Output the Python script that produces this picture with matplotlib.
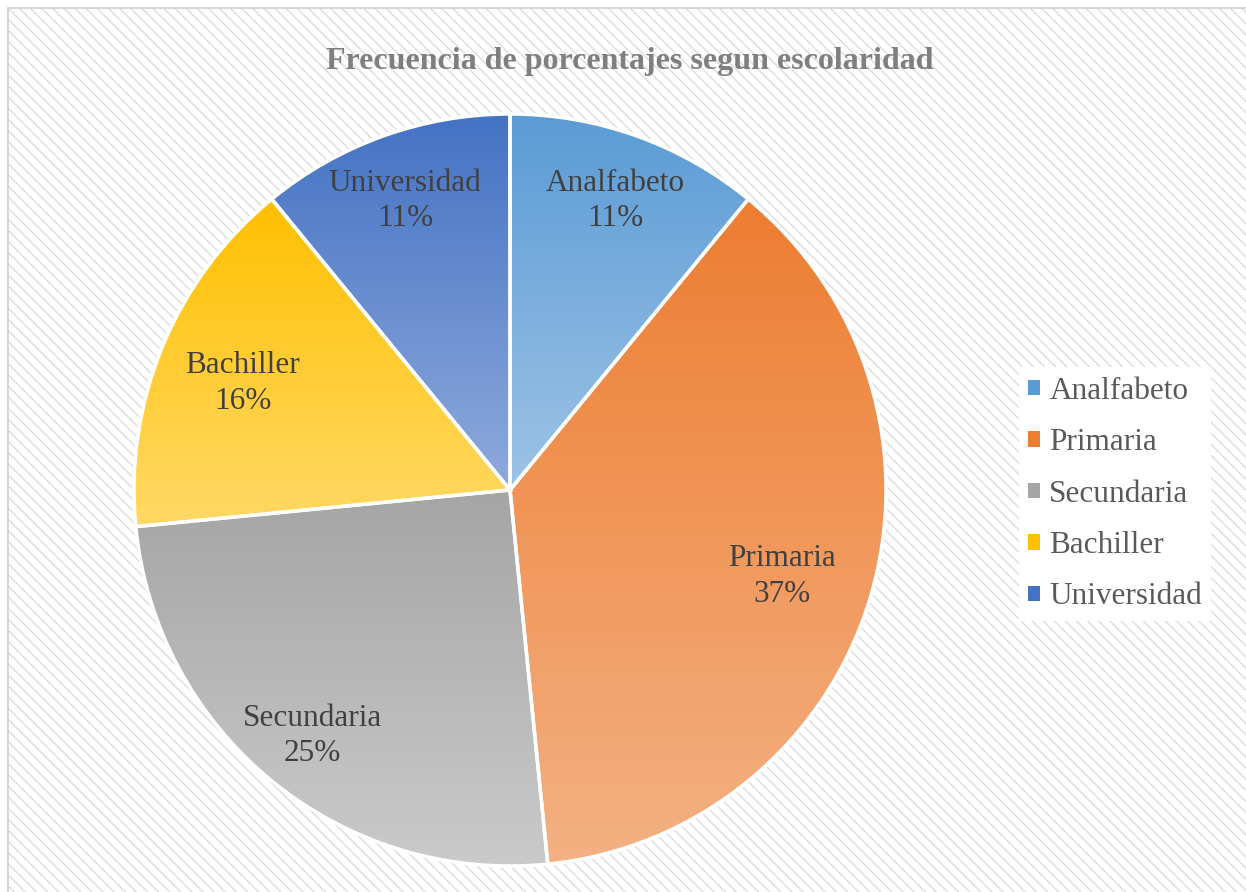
import numpy as np
import matplotlib
matplotlib.use("Agg")
import matplotlib.pyplot as plt
from matplotlib.colors import to_rgb
from matplotlib.patches import Patch, Rectangle

# data (percent, slice sizes estimated from the angles)
categories = ["Analfabeto", "Primaria", "Secundaria", "Bachiller", "Universidad"]
percentages = [10.9, 37.4, 25.0, 15.6, 10.9]

# gradient colours per slice (top, bottom)
top_colors = ["#5B9BD5", "#ED7D31", "#A5A5A5", "#FFC000", "#4472C4"]
bottom_colors = ["#9DC3E6", "#F4B183", "#CACACA", "#FFD966", "#8FAADC"]

# label distance from centre, per slice (layout only)
label_r = [0.83, 0.755, 0.83, 0.77, 0.83]

plt.rcParams["font.family"] = ["Liberation Serif", "DejaVu Serif"]

W, H = 1246, 892
fig = plt.figure(figsize=(W / 100, H / 100), dpi=100)
fig.patch.set_facecolor("white")

# hatched chart area background + border (behind the axes)
fig.patches.append(Rectangle((8 / W, 0), 1, 1 - 8 / H, transform=fig.transFigure,
                             facecolor="white", edgecolor="#dcdcdc", hatch="\\\\\\",
                             linewidth=0, zorder=-2))
fig.patches.append(Rectangle((8 / W, -0.01), 1, 1 - 8 / H + 0.01, transform=fig.transFigure,
                             facecolor="none", edgecolor="#d0d0d0", linewidth=1.2, zorder=-1))

cx, cy, r = 510, 490, 376
ax = fig.add_axes([(cx - r) / W, (H - cy - r) / H, 2 * r / W, 2 * r / H])
ax.set_facecolor("none")
ax.axis("off")

wedges, _ = ax.pie(percentages, startangle=90, counterclock=False, radius=1,
                   wedgeprops=dict(facecolor="none", edgecolor="white", linewidth=2.5))

for w, ct, cb in zip(wedges, top_colors, bottom_colors):
    w.set_zorder(3)
    bb = w.get_path().get_extents()
    t = np.linspace(0, 1, 256)[:, None]
    grad = (1 - t) * np.array(to_rgb(cb)) + t * np.array(to_rgb(ct))
    im = ax.imshow(grad[:, None, :], extent=[bb.x0, bb.x1, bb.y0, bb.y1],
                   origin="lower", aspect="auto", interpolation="bilinear", zorder=2)
    im.set_clip_path(w)

for w, name, p, d in zip(wedges, categories, percentages, label_r):
    ang = np.deg2rad((w.theta1 + w.theta2) / 2)
    ax.text(d * np.cos(ang), d * np.sin(ang) - 0.012, f"{name}\n{p:.0f}%", ha="center", va="center",
            fontsize=22.5, color="#404040", linespacing=1.28, zorder=5)

ax.set_xlim(-1, 1)
ax.set_ylim(-1, 1)
ax.set_aspect("equal")

fig.text(630 / W, 1 - 61 / H, "Frecuencia de porcentajes segun escolaridad",
         ha="center", va="center", fontsize=23, fontweight="bold", color="#7F7F7F")

handles = [Patch(facecolor=c, edgecolor="none") for c in top_colors]
leg = fig.legend(handles, categories, loc="center left",
                 bbox_to_anchor=(1003 / W, 1 - 494 / H), fontsize=22.5,
                 frameon=True, facecolor="white", edgecolor="none", framealpha=1,
                 fancybox=False, handlelength=0.38, handleheight=0.38,
                 handletextpad=0.3, labelspacing=0.72, borderpad=0.3)
for txt in leg.get_texts():
    txt.set_color("#595959")

fig.savefig("out.png", dpi=100)
